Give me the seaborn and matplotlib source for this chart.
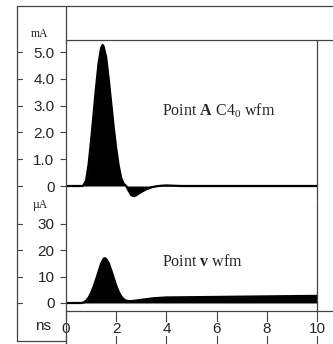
import numpy as np
import pandas as pd
import seaborn as sns
import matplotlib.pyplot as plt
from matplotlib.lines import Line2D

# point A C4_0 current waveform (mA)
t_a = [0.0, 0.5, 0.65, 0.7, 0.8, 0.9, 1.0, 1.1, 1.2, 1.3, 1.4, 1.46, 1.5, 1.6,
       1.7, 1.8, 1.9, 2.0, 2.1, 2.2, 2.3, 2.4, 2.5, 2.6, 2.7, 2.8, 3.0, 3.2,
       3.4, 3.6, 3.8, 4.0, 4.3, 4.6, 5.0, 10.0]
i_a = [0.0, 0.0, 0.0, 0.03, 0.2, 0.8, 1.7, 2.7, 3.7, 4.6, 5.15, 5.26, 5.2, 4.8,
       4.0, 3.1, 2.2, 1.4, 0.75, 0.3, 0.08, 0.0, -0.18, -0.34, -0.38, -0.34,
       -0.22, -0.12, -0.05, -0.01, 0.01, 0.02, 0.01, 0.0, 0.0, 0.0]

# point v current waveform (uA)
t_v = [0.0, 0.6, 0.7, 0.8, 0.9, 1.0, 1.1, 1.2, 1.3, 1.4, 1.5, 1.55, 1.6, 1.7,
       1.8, 1.9, 2.0, 2.1, 2.2, 2.3, 2.4, 2.5, 2.7, 3.0, 3.5, 4.0, 5.0, 6.0,
       7.0, 8.0, 9.0, 10.0]
i_v = [0.0, 0.0, 0.2, 0.8, 2.0, 3.8, 6.2, 9.0, 12.0, 15.0, 16.8, 17.0, 16.7,
       15.2, 12.5, 9.5, 6.6, 4.2, 2.5, 1.4, 0.9, 0.7, 0.8, 1.2, 1.8, 2.1, 2.2,
       2.3, 2.4, 2.5, 2.6, 2.7]

ma_ticks = [0, 1, 2, 3, 4, 5]
ma_labels = ["0", "1.0", "2.0", "3.0", "4.0", "5.0"]
ua_ticks = [0, 10, 20, 30]
ua_labels = ["0", "10", "20", "30"]
ns_ticks = [0, 2, 4, 6, 8, 10]

sns.set_style("white")
plt.rcParams["font.family"] = ["Liberation Sans", "DejaVu Sans"]
plt.rcParams["mathtext.fontset"] = "custom"
plt.rcParams["mathtext.rm"] = "Liberation Serif"
plt.rcParams["mathtext.bf"] = "Liberation Serif:bold"
plt.rcParams["mathtext.it"] = "Liberation Serif:italic"

W, H = 333, 344
frame = "#444444"
fig = plt.figure(figsize=(W / 100, H / 100), dpi=100)
fig.patch.set_facecolor("white")

ax_a = fig.add_axes([66 / W, 1 - 200 / H, 267 / W, 160 / H])
ax_v = fig.add_axes([66 / W, 1 - 311 / H, 267 / W, 111 / H])

df_a = pd.DataFrame({"t": t_a, "i": i_a})
df_v = pd.DataFrame({"t": t_v, "i": i_v})
sns.lineplot(data=df_a, x="t", y="i", ax=ax_a, color="black", lw=1.6)
ax_a.fill_between(df_a["t"], df_a["i"], 0, color="black", lw=0)
sns.lineplot(data=df_v, x="t", y="i", ax=ax_v, color="black", lw=1.6)
ax_v.fill_between(df_v["t"], df_v["i"], 0, color="black", lw=0)

xmax = 10 * 267 / 251
for ax in (ax_a, ax_v):
    ax.set_xlim(0, xmax)
    ax.set_xlabel("")
    ax.set_ylabel("")
    ax.set_facecolor("none")
    for s in ax.spines.values():
        s.set_visible(False)
        s.set_color(frame)
        s.set_linewidth(0.9)
    ax.axvline(10, color=frame, lw=0.9)
    ax.tick_params(axis="y", direction="out", length=4.3, width=0.8,
                   color=frame, pad=4, labelsize=11, left=True)

ax_a.set_ylim(-0.522, 5.448)
ax_a.set_yticks(ma_ticks, ma_labels)
ax_a.spines["top"].set_visible(True)
ax_a.tick_params(axis="x", bottom=False, labelbottom=False)

ax_v.set_ylim(-3.04, 39.1)
ax_v.set_yticks(ua_ticks, ua_labels)
ax_v.spines["bottom"].set_visible(True)
ax_v.set_xticks(ns_ticks, [str(v) for v in ns_ticks])
ax_v.tick_params(axis="x", direction="out", length=24, width=0.8,
                 color=frame, pad=-15.8, labelsize=11, bottom=True)
for lab in ax_v.get_xticklabels():
    lab.set_bbox(dict(facecolor="white", edgecolor="none", pad=0))

# small ticks on the outer frame line
for ax, ticks in ((ax_a, ma_ticks), (ax_v, ua_ticks)):
    for t in ticks:
        ax.plot([-0.1824, -0.1648], [t, t], transform=ax.get_yaxis_transform(),
                clip_on=False, color=frame, lw=0.8)

ax_a.text(3.81, 2.8, r"Point $\mathbf{A}$ C$4_{0}$ wfm", family="Liberation Serif",
          fontsize=11.5, va="center", ha="left")
ax_v.text(3.81, 15.4, r"Point $\mathbf{v}$ wfm", family="Liberation Serif",
          fontsize=11.5, va="center", ha="left")

# outer frame
def fline(x0, y0, x1, y1):
    fig.add_artist(Line2D([x0 / W, x1 / W], [1 - y0 / H, 1 - y1 / H],
                          color=frame, lw=0.9))

fline(17.3, 5.5, 333, 5.5)
fline(17.3, 5.5, 17.3, 340.5)
fline(17.3, 340.5, 66.3, 340.5)
fline(66.3, 5.5, 66.3, 344)

fig.text(39.5 / W, 1 - 34 / H, "mA", family="Liberation Serif", fontsize=8.5,
         ha="center", va="center")
fig.text(40.5 / W, 1 - 205 / H, "\u00b5A", family="Liberation Serif", fontsize=8.5,
         ha="center", va="center")
fig.text(43.5 / W, 1 - 326.5 / H, "ns", fontsize=11, ha="center", va="center")

fig.savefig("out.png", dpi=100)
